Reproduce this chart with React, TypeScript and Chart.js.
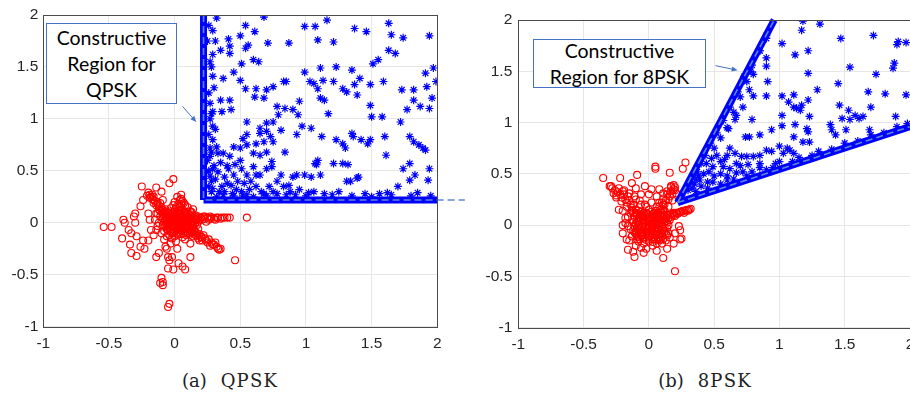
import React, { useEffect, useRef } from 'react';
import { Chart, registerables } from 'chart.js';

Chart.register(...registerables);

// ---------- data ----------
const axisTicks = [-1, -0.5, 0, 0.5, 1, 1.5, 2];

// QPSK constructive-region boundary (dense band of points) and dashed guide
const qpskBandV = [[0.22, 0.22], [0.22, 2.0]];
const qpskBandH = [[0.22, 0.22], [2.0, 0.22]];
const qpskDashed = [[0.22, 2.0], [0.22, 0.22], [2.21, 0.22]];

const qpskBlue = [
  [0.32, 1.97], [0.68, 1.98], [0.99, 1.89], [1.07, 1.89], [1.16, 1.95], [1.37, 1.87], [1.46, 1.84], [1.63, 1.92],
  [1.65, 1.81], [1.74, 1.78], [1.94, 1.80], [0.54, 1.90], [0.61, 1.84], [0.41, 1.77], [0.50, 1.80], [0.42, 1.70],
  [0.56, 1.71], [0.54, 1.68], [0.71, 1.73], [0.87, 1.73], [1.09, 1.76], [1.21, 1.74], [0.35, 1.66], [0.42, 1.63],
  [0.29, 1.62], [1.63, 1.66], [1.68, 1.63], [1.51, 1.53], [1.55, 1.57], [1.35, 1.47], [1.23, 1.50], [0.99, 1.45],
  [1.11, 1.49], [1.97, 1.49], [1.91, 1.44], [0.29, 1.41], [0.37, 1.39], [0.45, 1.45], [0.50, 1.37], [0.54, 1.29],
  [0.62, 1.29], [0.51, 1.53], [0.60, 1.57], [0.64, 1.55], [0.75, 1.31], [0.83, 1.36], [0.85, 1.36], [0.70, 1.28],
  [0.68, 1.20], [0.61, 1.21], [1.03, 1.36], [1.06, 1.34], [1.09, 1.29], [1.13, 1.37], [1.21, 1.36], [1.28, 1.29],
  [1.37, 1.33], [1.41, 1.39], [1.49, 1.33], [1.59, 1.36], [1.73, 1.28], [1.82, 1.28], [1.92, 1.31], [1.96, 1.20],
  [1.99, 1.36], [1.82, 1.18], [1.87, 1.12], [1.77, 1.09], [1.94, 1.10], [1.72, 0.97], [1.39, 1.23], [1.31, 1.26],
  [1.11, 1.20], [1.14, 1.18], [1.17, 1.05], [0.95, 1.17], [0.90, 1.09], [0.94, 1.04], [0.97, 0.93], [0.84, 1.10],
  [0.78, 1.12], [0.79, 1.04], [0.75, 0.97], [0.70, 0.96], [0.65, 0.91], [0.55, 0.97], [0.35, 1.18], [0.42, 1.18],
  [0.36, 1.07], [0.43, 1.09], [0.29, 1.07], [0.29, 0.93], [0.52, 0.81], [0.55, 0.85], [0.65, 0.86], [0.70, 0.88],
  [0.73, 0.83], [0.68, 0.78], [0.62, 0.76], [0.75, 0.78], [0.81, 0.89], [0.84, 0.68], [0.93, 0.85], [1.04, 0.91],
  [1.12, 0.83], [1.23, 0.80], [1.28, 0.76], [1.30, 0.72], [1.35, 0.86], [1.36, 0.83], [1.42, 0.80], [1.47, 0.76],
  [1.49, 0.80], [1.50, 1.02], [1.58, 1.02], [1.49, 1.13], [1.60, 0.83], [1.61, 0.65], [1.79, 0.83], [1.82, 0.78],
  [1.86, 0.75], [1.89, 0.72], [1.91, 0.70], [1.79, 0.57], [1.74, 0.52], [1.83, 0.46], [1.79, 0.41], [1.94, 0.52],
  [1.93, 0.41], [1.70, 0.35], [1.56, 0.28], [1.34, 0.40], [1.31, 0.40], [1.28, 0.57], [1.32, 0.56], [1.39, 0.43],
  [1.40, 0.44], [1.21, 0.57], [1.07, 0.57], [1.08, 0.56], [1.09, 0.60], [1.11, 0.46], [1.04, 0.44], [0.99, 0.46],
  [0.90, 0.44], [0.93, 0.46], [0.87, 0.36], [0.81, 0.46], [0.78, 0.40], [0.70, 0.52], [0.74, 0.54], [0.65, 0.46],
  [0.62, 0.46], [0.60, 0.54], [0.50, 0.60], [0.51, 0.52], [0.55, 0.46], [0.45, 0.46], [0.40, 0.38], [0.43, 0.36],
  [0.36, 0.35], [0.33, 0.49], [0.29, 0.52], [0.27, 0.64], [0.32, 0.73], [0.37, 0.67], [0.42, 0.64], [0.45, 0.73],
  [0.50, 0.72], [0.55, 0.75], [0.60, 0.67], [0.65, 0.65], [0.70, 0.68], [0.74, 0.59], [0.29, 0.80], [0.33, 0.67],
  [0.41, 0.52], [0.47, 0.32], [0.51, 0.30], [0.57, 0.32], [0.60, 0.25], [0.68, 0.28], [0.75, 0.30], [0.83, 0.35],
  [0.88, 0.30], [0.95, 0.32], [1.06, 0.30], [1.14, 0.28], [0.29, 0.33], [0.32, 0.25], [0.37, 0.27],
  [0.26, 1.90], [0.25, 1.75], [0.27, 1.55], [0.26, 1.25], [0.27, 1.00], [0.26, 0.85], [0.25, 0.60], [0.27, 0.45],
  [0.26, 0.35], [0.28, 0.30], [0.45, 0.26], [0.55, 0.27], [0.70, 0.26], [0.85, 0.27], [1.00, 0.26], [1.20, 0.27],
  [1.35, 0.26], [1.50, 0.25], [1.65, 0.27], [1.80, 0.26], [1.95, 0.26],
  [0.28, 0.40], [0.31, 0.42], [0.34, 0.30], [0.38, 0.44], [0.30, 0.55], [0.35, 0.58], [0.40, 0.55], [0.46, 0.56],
  [0.48, 0.40], [0.53, 0.38], [0.58, 0.40], [0.62, 0.35], [0.66, 0.30], [0.72, 0.35], [0.28, 0.68], [0.31, 0.90],
  [0.27, 1.15], [0.30, 1.30], [0.28, 1.50], [0.31, 1.75], [0.29, 1.85], [0.38, 0.30], [0.44, 0.28], [0.52, 0.26],
  [0.78, 0.28], [0.92, 0.27], [1.02, 0.29], [1.25, 0.30], [1.45, 0.28], [1.62, 0.29], [1.85, 0.29], [0.26, 0.50],
  [0.27, 0.72], [0.28, 1.05],
];

const qpskRed = [
  [-0.01, 0.42], [-0.04, 0.38], [-0.25, 0.35], [-0.14, 0.34], [-0.20, 0.29], [-0.16, 0.25], [-0.10, 0.30], [-0.09, 0.22],
  [0.05, 0.27], [0.07, 0.19], [0.05, 0.23], [0.04, 0.16], [-0.54, -0.04], [-0.48, -0.04], [-0.39, 0.03], [-0.38, 0.0],
  [-0.40, -0.15], [-0.33, -0.10], [-0.34, -0.21], [-0.33, -0.29], [-0.29, -0.32], [-0.26, -0.23], [-0.23, -0.25],
  [-0.29, -0.13], [-0.24, -0.17], [-0.20, -0.17], [-0.18, -0.07], [-0.14, -0.07], [-0.14, -0.33], [-0.12, -0.29],
  [-0.07, -0.23], [-0.06, -0.25], [-0.05, -0.33], [-0.04, -0.36], [-0.02, -0.33], [0.03, -0.39], [0.06, -0.42],
  [0.08, -0.45], [-0.01, -0.45], [-0.05, -0.44], [-0.10, -0.53], [-0.09, -0.57], [-0.09, -0.60], [-0.11, -0.58],
  [-0.04, -0.78], [-0.05, -0.81], [0.12, -0.33], [0.12, -0.20], [0.19, -0.17], [0.29, -0.21], [0.33, -0.25],
  [0.35, -0.25], [0.46, -0.36], [0.55, 0.05], [0.42, 0.05], [0.38, 0.05], [0.33, 0.05], [0.27, 0.04], [0.22, 0.04],
  [0.17, 0.04], [-0.31, 0.06], [-0.30, 0.09], [-0.26, 0.16], [-0.20, 0.09], [-0.24, 0.22], [-0.30, 0.0],
  [-0.35, -0.07], [-0.19, 0.03], [-0.14, 0.09],
  [-0.03, 0.04], [-0.06, 0.08], [-0.09, 0.12], [-0.12, 0.16], [-0.15, 0.21], [-0.18, 0.25], [-0.05, 0.10],
  [-0.10, 0.15], [-0.13, 0.20], [-0.08, 0.06], [-0.11, 0.11],
  [0.04, 0.04], [0.08, 0.04], [0.12, 0.05], [0.15, 0.03], [0.20, 0.05], [0.25, 0.05], [0.30, 0.04], [0.10, 0.02],
  [0.14, 0.0], [0.18, 0.01],
  [0.04, -0.03], [0.08, -0.06], [0.12, -0.09], [0.16, -0.12], [0.20, -0.14], [0.24, -0.17], [0.28, -0.19],
  [0.10, -0.10], [0.15, -0.08], [0.22, -0.12],
  [0.02, 0.06], [0.03, 0.10], [0.04, 0.14], [0.05, 0.18], [0.0, 0.12], [0.06, 0.10],
  [0.0, -0.05], [-0.01, -0.10], [-0.02, -0.15], [-0.03, -0.20], [0.01, -0.18], [-0.04, -0.12], [0.02, -0.25],
  [0.0, 0.0], [0.02, 0.01], [-0.02, -0.02], [0.03, -0.01], [-0.01, 0.03], [0.05, 0.0], [-0.04, 0.0], [0.0, -0.03],
  [0.06, 0.05], [-0.06, -0.04], [0.07, -0.03], [-0.07, 0.02], [0.09, 0.08], [-0.09, -0.02], [0.10, -0.02],
  [0.02, 0.08], [-0.02, 0.06], [0.04, -0.07], [-0.05, -0.07], [0.08, 0.10], [-0.12, 0.0], [-0.10, -0.10],
  [-0.15, 0.03], [-0.16, -0.12], [0.0, 0.20], [0.10, 0.15], [0.13, 0.08], [-0.08, -0.16], [0.06, -0.14],
  [0.01, 0.05], [0.04, 0.08], [0.07, 0.01], [0.09, -0.04], [0.11, 0.03], [0.13, -0.05], [-0.03, -0.06],
  [-0.06, 0.05], [-0.08, -0.08], [0.03, -0.11], [0.06, 0.13], [-0.03, 0.14], [0.12, 0.11], [0.16, 0.07],
  [0.18, -0.06], [-0.11, 0.06], [-0.13, -0.03], [0.0, -0.13], [0.08, -0.16], [-0.06, -0.13], [0.05, 0.03],
  [-0.02, 0.01], [0.02, -0.02], [0.14, 0.13], [0.08, 0.17],
  [-0.07, 0.11], [-0.04, 0.09], [-0.01, 0.10], [0.03, 0.12], [0.07, 0.11], [0.10, 0.09], [0.13, 0.10],
  [-0.08, 0.07], [-0.05, 0.06], [0.01, 0.07], [0.05, 0.06], [0.08, 0.07], [0.12, 0.06], [0.15, 0.06],
  [-0.09, 0.04], [-0.06, 0.03], [-0.01, 0.05], [0.03, 0.03], [0.07, 0.04], [0.11, 0.04], [0.16, 0.04], [0.19, 0.03],
  [-0.08, 0.01], [-0.05, -0.01], [-0.02, 0.02], [0.01, -0.01], [0.04, 0.01], [0.08, -0.01], [0.12, 0.01], [0.17, -0.02],
  [-0.07, -0.03], [-0.03, -0.04], [0.02, -0.05], [0.06, -0.04], [0.11, -0.06], [0.14, -0.03],
  [-0.06, -0.06], [-0.01, -0.08], [0.03, -0.07], [0.07, -0.08], [0.13, -0.09], [0.17, -0.10],
  [-0.02, -0.10], [0.05, -0.11], [0.09, -0.12], [0.19, -0.11], [0.23, -0.15], [0.26, -0.16], [0.30, -0.21], [0.31, -0.19],
  [-0.14, 0.17], [-0.11, 0.19], [-0.16, 0.19], [-0.17, 0.23], [-0.12, 0.13], [-0.07, 0.13], [-0.09, 0.09],
  [-0.13, 0.09], [-0.19, 0.27], [-0.21, 0.26],
  [0.21, 0.03], [0.23, 0.06], [0.26, 0.03], [0.28, 0.05], [0.31, 0.03], [0.35, 0.04], [0.24, 0.01],
  [0.01, 0.15], [0.03, 0.18], [0.06, 0.21], [-0.01, 0.17], [0.04, 0.22], [0.02, 0.25],
  [-0.035, 0.075], [-0.015, 0.085], [0.015, 0.095], [0.045, 0.095], [0.085, 0.085], [0.115, 0.075],
  [-0.065, 0.045], [-0.035, 0.055], [-0.005, 0.065], [0.025, 0.045], [0.055, 0.055], [0.095, 0.055], [0.135, 0.045],
  [-0.045, 0.015], [-0.015, 0.035], [0.015, 0.025], [0.045, 0.025], [0.075, 0.025], [0.105, 0.015], [0.135, 0.015],
  [0.165, 0.025], [-0.055, -0.015], [-0.025, 0.005], [0.015, -0.005], [0.055, -0.015], [0.085, 0.005], [0.125, -0.015],
  [0.155, -0.015], [-0.045, -0.045], [-0.015, -0.025], [0.025, -0.035], [0.045, -0.055], [0.085, -0.035],
  [0.115, -0.035], [0.145, -0.065], [-0.035, -0.085], [0.015, -0.065], [0.055, -0.075], [0.095, -0.085],
  [0.125, -0.075], [0.155, -0.085], [0.025, -0.095], [0.065, -0.105], [0.115, -0.115], [0.145, -0.105],
  [0.175, -0.125], [0.205, -0.135],
  [-0.04, 0.06], [-0.07, 0.09], [-0.10, 0.13], [-0.13, 0.18], [-0.16, 0.22], [-0.19, 0.24], [-0.17, 0.27],
  [0.18, 0.06], [0.22, 0.06], [0.27, 0.06], [0.32, 0.05], [0.36, 0.05], [0.40, 0.05],
  [0.14, -0.13], [0.18, -0.15], [0.21, -0.17], [0.25, -0.19], [0.27, -0.22], [0.32, -0.23], [0.34, -0.26],
];

// 8PSK constructive-region boundary and dashed guide
const psk8BandUpper = [[0.22, 0.22], [0.96, 2.0]];
const psk8BandLower = [[0.22, 0.22], [2.0, 0.96]];
const psk8DashedUpper = [[0.22, 0.22], [0.96, 2.0]];
const psk8DashedLower = [[0.22, 0.22], [2.0, 0.96]];

const psk8Blue = [
  [1.18, 1.99], [1.31, 1.96], [1.17, 1.90], [1.02, 1.77], [1.12, 1.66], [1.22, 1.70], [1.47, 1.82], [1.72, 1.85],
  [1.91, 1.79], [1.97, 1.78], [1.90, 1.76], [1.88, 1.58], [1.87, 1.53], [1.54, 1.54], [1.74, 1.47], [1.22, 1.48],
  [0.91, 1.40], [0.80, 1.26], [0.90, 1.26], [1.02, 1.26], [1.11, 1.27], [1.22, 1.22], [1.29, 1.32], [1.45, 1.38],
  [1.68, 1.30], [1.81, 1.28], [1.97, 1.27], [1.07, 1.20], [1.11, 1.15], [1.13, 1.14], [1.16, 1.12], [1.17, 1.17],
  [1.02, 1.07], [1.12, 0.98], [1.23, 1.06], [1.46, 1.17], [1.53, 1.12], [1.58, 1.07], [1.48, 1.04], [1.54, 1.03],
  [1.61, 1.04], [1.64, 1.06], [1.70, 1.15], [1.89, 1.06], [1.39, 0.98], [1.40, 0.93], [1.43, 0.88], [1.51, 0.93],
  [1.69, 0.93], [0.79, 1.03], [0.85, 0.88], [0.94, 0.93], [1.02, 0.97], [0.77, 0.86], [0.74, 0.86], [1.11, 0.86],
  [1.21, 0.94], [1.22, 0.91], [1.23, 0.81], [1.18, 0.81], [1.00, 0.77], [1.06, 0.75], [1.08, 0.73], [1.11, 0.70],
  [1.03, 0.70], [0.94, 0.72], [0.90, 0.73], [0.85, 0.68], [0.80, 0.67], [0.75, 0.67], [0.71, 0.67], [0.66, 0.70],
  [0.62, 0.75], [0.60, 0.68], [0.58, 0.64], [0.57, 0.57], [0.67, 0.60], [0.76, 0.59], [0.85, 0.60], [0.97, 0.60],
  [0.52, 0.68], [0.49, 0.57], [0.46, 0.52], [0.39, 0.44], [0.49, 0.42], [0.60, 0.44], [0.67, 0.51], [0.79, 0.52],
  [0.90, 0.54], [0.61, 0.94], [0.67, 1.07], [0.66, 1.03], [0.72, 1.15], [0.77, 1.32], [0.80, 1.47], [0.78, 1.50],
  [0.90, 1.63], [0.90, 1.55],
  [0.35, 0.40], [0.40, 0.38], [0.45, 0.42], [0.42, 0.50], [0.38, 0.48], [0.50, 0.48], [0.55, 0.50], [0.33, 0.36],
  [0.36, 0.45], [0.44, 0.60], [0.48, 0.65], [0.55, 0.62], [0.62, 0.55], [0.70, 0.58], [0.50, 0.75], [0.55, 0.85],
  [0.60, 0.95], [0.65, 1.10], [0.70, 1.25], [0.75, 1.40], [0.85, 1.70], [0.90, 1.85], [0.60, 0.48], [0.72, 0.52],
  [0.85, 0.56], [1.00, 0.62], [1.15, 0.66], [1.30, 0.72], [1.50, 0.80], [1.70, 0.88], [1.90, 0.96],
  [0.30, 0.34], [0.32, 0.42], [0.37, 0.52], [0.40, 0.60], [0.43, 0.68], [0.47, 0.80], [0.52, 0.90], [0.57, 1.02],
  [0.62, 1.15], [0.68, 1.30], [0.73, 1.45], [0.79, 1.56], [0.85, 1.70], [0.90, 1.82], [0.36, 0.33], [0.45, 0.36],
  [0.55, 0.40], [0.65, 0.45], [0.75, 0.48], [0.95, 0.56], [1.10, 0.62], [1.25, 0.68], [1.40, 0.74], [1.60, 0.82],
  [1.80, 0.90], [1.98, 0.99],
];

const psk8Red = [
  [-0.35, 0.46], [-0.29, 0.38], [-0.22, 0.46], [-0.09, 0.49], [-0.13, 0.41], [0.05, 0.57], [0.05, 0.55], [0.16, 0.51],
  [0.26, 0.55], [0.28, 0.61], [0.19, 0.39], [0.17, 0.37], [0.11, 0.31], [-0.23, 0.15], [-0.20, 0.14], [-0.14, 0.12],
  [-0.18, 0.07], [-0.16, 0.08], [-0.20, 0.0], [-0.16, -0.01], [-0.17, -0.14], [-0.16, -0.24], [-0.12, -0.26],
  [-0.11, -0.31], [-0.04, -0.27], [-0.02, -0.23], [0.09, -0.14], [0.11, -0.32], [0.14, -0.23], [0.19, -0.18],
  [0.24, -0.14], [0.25, -0.13], [0.24, -0.05], [0.23, -0.01], [0.20, -0.45], [0.31, 0.15], [0.29, 0.15],
  [0.26, 0.14], [0.24, 0.13], [0.19, 0.12], [0.14, 0.10], [0.09, 0.08],
  [-0.02, 0.05], [-0.06, 0.10], [-0.10, 0.15], [-0.14, 0.20], [-0.18, 0.25], [-0.22, 0.30], [-0.26, 0.34],
  [-0.08, 0.14], [-0.12, 0.20], [-0.16, 0.28], [-0.20, 0.33], [-0.04, 0.12], [-0.10, 0.25],
  [0.03, 0.05], [0.06, 0.10], [0.09, 0.15], [0.12, 0.20], [0.15, 0.25], [0.18, 0.30], [0.20, 0.34], [0.10, 0.22],
  [0.06, 0.18], [0.14, 0.30],
  [0.05, 0.03], [0.10, 0.05], [0.15, 0.07], [0.20, 0.09], [0.22, 0.11], [0.12, 0.06],
  [0.0, 0.0], [0.03, 0.01], [-0.03, -0.02], [0.02, -0.04], [-0.05, 0.02], [0.06, -0.02], [-0.07, -0.05],
  [0.08, 0.02], [-0.09, 0.03], [0.0, -0.08], [0.05, -0.09], [-0.05, -0.10], [0.10, -0.05], [-0.11, -0.07],
  [0.12, -0.02], [0.0, 0.08], [0.04, 0.12], [-0.02, 0.18], [0.02, 0.22], [-0.06, 0.20], [-0.12, 0.05],
  [0.08, -0.12], [-0.08, -0.16], [0.0, -0.16], [0.03, -0.20], [-0.04, -0.18], [0.15, -0.08], [-0.14, -0.04],
  [0.10, -0.18], [-0.10, -0.20], [0.06, -0.25], [0.16, -0.12], [0.20, -0.08], [-0.20, -0.08], [-0.18, 0.02],
  [0.0, 0.30], [-0.06, 0.30], [0.06, 0.28], [-0.03, 0.38], [0.02, 0.35], [-0.10, 0.36], [0.08, 0.35], [0.13, 0.04],
  [0.01, 0.04], [0.04, -0.06], [-0.04, 0.06], [0.07, 0.06], [-0.07, 0.08], [0.09, -0.08], [-0.09, -0.11],
  [0.12, 0.09], [-0.12, 0.12], [0.02, -0.12], [-0.02, -0.06], [0.06, -0.18], [-0.06, -0.22], [0.11, 0.15],
  [-0.13, 0.15], [0.15, 0.0], [-0.15, -0.15], [0.13, -0.15], [0.0, 0.15], [-0.08, 0.0],
  [-0.10, 0.12], [-0.06, 0.13], [-0.02, 0.12], [0.02, 0.13], [0.06, 0.14], [0.10, 0.12],
  [-0.11, 0.08], [-0.07, 0.07], [-0.03, 0.09], [0.01, 0.08], [0.05, 0.09], [0.09, 0.10], [0.13, 0.07],
  [-0.12, 0.03], [-0.08, 0.04], [-0.04, 0.02], [0.0, 0.04], [0.04, 0.03], [0.08, 0.05], [0.12, 0.03], [0.16, 0.05],
  [-0.11, -0.01], [-0.07, -0.02], [-0.02, -0.01], [0.02, 0.0], [0.06, 0.01], [0.10, -0.01], [0.14, -0.03],
  [-0.12, -0.05], [-0.08, -0.06], [-0.04, -0.05], [0.0, -0.04], [0.04, -0.03], [0.08, -0.04], [0.12, -0.06],
  [-0.10, -0.09], [-0.06, -0.10], [-0.02, -0.09], [0.02, -0.08], [0.06, -0.10], [0.10, -0.11],
  [-0.09, -0.14], [-0.04, -0.13], [0.0, -0.12], [0.04, -0.14], [0.08, -0.15], [-0.13, -0.11], [0.14, -0.10],
  [-0.24, 0.32], [-0.28, 0.36], [-0.25, 0.29], [-0.21, 0.27], [-0.17, 0.22], [-0.13, 0.17], [-0.19, 0.30],
  [-0.15, 0.24], [-0.30, 0.38], [-0.27, 0.31],
  [0.16, 0.28], [0.17, 0.33], [0.13, 0.24], [0.08, 0.18], [0.11, 0.20], [0.19, 0.35],
  [0.18, 0.11], [0.21, 0.12], [0.25, 0.13], [0.28, 0.14], [0.17, 0.08],
  [-0.09, 0.105], [-0.05, 0.105], [-0.01, 0.105], [0.03, 0.105], [0.07, 0.115], [0.11, 0.105],
  [-0.09, 0.065], [-0.05, 0.085], [-0.01, 0.065], [0.03, 0.075], [0.07, 0.085], [0.11, 0.075],
  [-0.10, 0.015], [-0.06, 0.045], [-0.02, 0.035], [0.02, 0.025], [0.06, 0.035], [0.10, 0.025], [0.14, 0.025],
  [-0.09, -0.035], [-0.05, -0.015], [-0.01, -0.025], [0.03, -0.015], [0.07, -0.025], [0.11, -0.035],
  [-0.10, -0.065], [-0.06, -0.075], [-0.02, -0.065], [0.02, -0.055], [0.06, -0.065], [0.10, -0.075], [0.13, -0.085],
  [-0.08, -0.115], [-0.04, -0.095], [0.0, -0.105], [0.04, -0.115], [0.08, -0.095], [0.11, -0.135],
  [-0.07, -0.135], [-0.02, -0.145], [0.03, -0.165], [0.07, -0.135],
  [-0.05, 0.08], [-0.09, 0.11], [-0.13, 0.14], [-0.17, 0.18], [-0.21, 0.23], [-0.25, 0.27], [-0.23, 0.36],
  [-0.19, 0.34], [-0.15, 0.31], [-0.11, 0.28], [-0.07, 0.24], [-0.03, 0.20],
  [0.05, 0.14], [0.08, 0.22], [0.11, 0.26], [0.14, 0.33], [0.17, 0.38], [0.20, 0.37], [0.21, 0.31], [0.18, 0.24],
  [0.15, 0.18], [0.12, 0.14],
  [0.16, 0.10], [0.19, 0.10], [0.23, 0.12], [0.27, 0.12], [0.30, 0.14], [0.32, 0.16],
];

// annotation arrows (data coordinates: from -> to)
const qpskArrows = [[[0.06, 1.12], [0.165, 0.97]]];
const psk8Arrows = [[[0.51, 1.555], [0.68, 1.51]]];

// ---------- helpers ----------
const toPts = (a: number[][]) => a.map(([x, y]) => ({ x, y }));

const BLUE = '#0000ff';
const RED = '#ff0000';
const DASH = 'rgb(90,138,204)';
const NOTE = '#4472c4';

const framePlugin = {
  id: 'frame',
  afterDatasetsDraw(chart: any, _args: any, opts: any) {
    const { ctx, chartArea: a, scales } = chart;
    ctx.save();
    ctx.strokeStyle = '#4a4a4a';
    ctx.lineWidth = 1;
    ctx.strokeRect(Math.round(a.left) + 0.5, Math.round(a.top) + 0.5, Math.round(a.right - a.left), Math.round(a.bottom - a.top));
    (opts.arrows || []).forEach((ar: number[][]) => {
      const x1 = scales.x.getPixelForValue(ar[0][0]);
      const y1 = scales.y.getPixelForValue(ar[0][1]);
      const x2 = scales.x.getPixelForValue(ar[1][0]);
      const y2 = scales.y.getPixelForValue(ar[1][1]);
      const ang = Math.atan2(y2 - y1, x2 - x1);
      ctx.strokeStyle = NOTE;
      ctx.fillStyle = NOTE;
      ctx.lineWidth = 1;
      ctx.beginPath();
      ctx.moveTo(x1, y1);
      ctx.lineTo(x2 - 4 * Math.cos(ang), y2 - 4 * Math.sin(ang));
      ctx.stroke();
      ctx.beginPath();
      ctx.moveTo(x2, y2);
      ctx.lineTo(x2 - 6 * Math.cos(ang) + 2.5 * Math.sin(ang), y2 - 6 * Math.sin(ang) - 2.5 * Math.cos(ang));
      ctx.lineTo(x2 - 6 * Math.cos(ang) - 2.5 * Math.sin(ang), y2 - 6 * Math.sin(ang) + 2.5 * Math.cos(ang));
      ctx.closePath();
      ctx.fill();
    });
    ctx.restore();
  },
};

const axisScale = (axis: 'x' | 'y', size: number, pad: number) => ({
  type: 'linear' as const,
  min: -1,
  max: 2,
  afterBuildTicks: (s: any) => {
    s.ticks = axisTicks.map((v) => ({ value: v }));
  },
  ticks: {
    callback: (v: any) => String(v),
    color: '#262626',
    font: { family: '"Liberation Sans", Arial, sans-serif', size: 15.5 },
    padding: pad,
    maxRotation: 0,
    autoSkip: false,
  },
  grid: { color: '#e6e6e6', drawTicks: false, lineWidth: 1 },
  border: { display: false },
  afterFit: (s: any) => {
    if (axis === 'x') s.height = size;
    else s.width = size;
  },
});

const lineDs = (data: number[][], color: string, width: number, dash: number[], order: number, clip: any) => ({
  data: toPts(data),
  showLine: true,
  borderColor: color,
  borderWidth: width,
  borderDash: dash,
  pointRadius: 0,
  tension: 0,
  fill: false,
  order,
  clip,
});

const starDs = (data: number[][]) => ({
  data: toPts(data),
  pointStyle: 'star',
  pointRadius: 4,
  borderColor: BLUE,
  backgroundColor: BLUE,
  pointBorderWidth: 1.2,
  borderWidth: 1.2,
  showLine: false,
  order: 2,
});

const circleDs = (data: number[][]) => ({
  data: toPts(data),
  pointStyle: 'circle',
  pointRadius: 3.5,
  borderColor: RED,
  backgroundColor: 'rgba(0,0,0,0)',
  pointBorderWidth: 1.1,
  borderWidth: 1.1,
  showLine: false,
  order: 3,
});

function makeChart(canvas: HTMLCanvasElement, datasets: any[], padding: any, yW: number, xH: number, yPad: number, arrows: any) {
  return new Chart(canvas, {
    type: 'scatter',
    data: { datasets },
    options: {
      animation: false,
      responsive: false,
      maintainAspectRatio: false,
      devicePixelRatio: 1,
      layout: { padding },
      events: [],
      plugins: {
        legend: { display: false },
        tooltip: { enabled: false },
        frame: { arrows },
      } as any,
      scales: {
        x: axisScale('x', xH, 8) as any,
        y: axisScale('y', yW, yPad) as any,
      },
    },
    plugins: [framePlugin as any],
  });
}

export default function App() {
  const ref1 = useRef<HTMLCanvasElement>(null);
  const ref2 = useRef<HTMLCanvasElement>(null);

  useEffect(() => {
    const c1 = makeChart(
      ref1.current!,
      [
        lineDs(qpskDashed, DASH, 1.6, [7, 4], 0, false),
        lineDs(qpskBandV, BLUE, 7, [], 1, 4),
        lineDs(qpskBandH, BLUE, 7, [], 1, 4),
        starDs(qpskBlue),
        circleDs(qpskRed),
      ],
      { left: 0, top: 15, right: 32.7, bottom: 0 },
      43.3,
      33.3,
      5,
      qpskArrows,
    );
    const c2 = makeChart(
      ref2.current!,
      [
        lineDs(psk8DashedUpper, DASH, 1.6, [7, 4], 0, false),
        lineDs(psk8DashedLower, DASH, 1.6, [7, 4], 0, false),
        lineDs(psk8BandUpper, BLUE, 7, [], 1, 4),
        lineDs(psk8BandLower, BLUE, 7, [], 1, 4),
        starDs(psk8Blue),
        circleDs(psk8Red),
      ],
      { left: 0, top: 20, right: 40, bottom: 0 },
      48.3,
      32.3,
      6,
      psk8Arrows,
    );
    return () => {
      c1.destroy();
      c2.destroy();
    };
  }, []);

  const noteFont = 'Lato, "Open Sans", sans-serif';
  const boxBase: React.CSSProperties = {
    position: 'absolute',
    boxSizing: 'border-box',
    border: `1.5px solid ${NOTE}`,
    background: '#fff',
    display: 'flex',
    flexDirection: 'column',
    justifyContent: 'center',
    alignItems: 'center',
    fontFamily: noteFont,
    fontSize: 19.5,
    lineHeight: '26px',
    color: '#000',
    whiteSpace: 'nowrap',
  };
  const capBase: React.CSSProperties = {
    position: 'absolute',
    width: 200,
    textAlign: 'center',
    top: 371,
    fontFamily: '"DejaVu Serif", serif',
    fontSize: 18,
    lineHeight: '20px',
    color: '#222',
    whiteSpace: 'nowrap',
  };

  return (
    <div style={{ position: 'fixed', left: 0, top: 0, width: 910, height: 398, overflow: 'hidden', background: '#fff' }}>
      <canvas ref={ref1} width={470} height={360} style={{ position: 'absolute', left: 0, top: 0, width: 470, height: 360 }} />
      <canvas ref={ref2} width={480} height={360} style={{ position: 'absolute', left: 470, top: 0, width: 480, height: 360 }} />
      <div style={{ ...boxBase, left: 46, top: 23, width: 131, height: 81 }}>
        <div>Constructive</div>
        <div>Region for</div>
        <div>QPSK</div>
      </div>
      <div style={{ ...boxBase, left: 533, top: 39, width: 173, height: 49 }}>
        <div>Constructive</div>
        <div>Region for 8PSK</div>
      </div>
      <div style={{ ...capBase, left: 130 }}>
        <span>(a)</span>
        <span style={{ marginLeft: 14, letterSpacing: 1.2 }}>QPSK</span>
      </div>
      <div style={{ ...capBase, left: 605 }}>
        <span>(b)</span>
        <span style={{ marginLeft: 14, letterSpacing: 1.2 }}>8PSK</span>
      </div>
    </div>
  );
}
